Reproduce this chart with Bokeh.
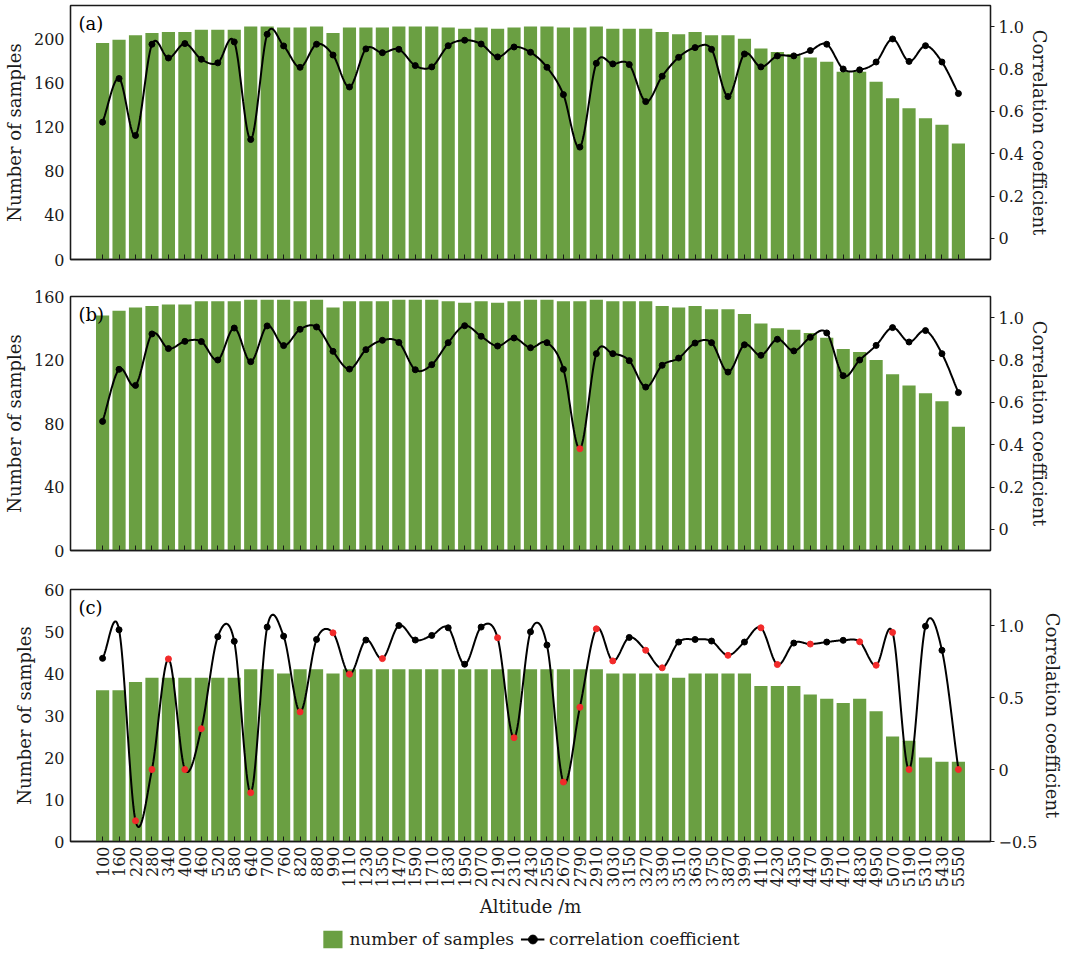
import numpy as np
from math import pi
from bokeh.plotting import figure
from bokeh.models import (Range1d, LinearAxis, FixedTicker, CustomJSTickFormatter,
                          Legend, LegendItem, Label)
from bokeh.layouts import column
from bokeh.embed import file_html
from bokeh.resources import INLINE

altitudes = ["100", "160", "220", "280", "340", "400", "460", "520", "580", "640",
             "700", "760", "820", "880", "990", "1110", "1230", "1350", "1470", "1590",
             "1710", "1830", "1950", "2070", "2190", "2310", "2430", "2550", "2670", "2790",
             "2910", "3030", "3150", "3270", "3390", "3510", "3630", "3750", "3870", "3990",
             "4110", "4230", "4350", "4470", "4590", "4710", "4830", "4950", "5070", "5190",
             "5310", "5430", "5550"]

samples_a = [196, 199, 203, 205, 206, 206, 208, 208, 208, 211, 211, 210, 210, 211, 205, 210,
             210, 210, 211, 211, 211, 210, 209, 210, 209, 210, 211, 211, 210, 210, 211, 209,
             209, 209, 206, 204, 206, 203, 203, 200, 191, 188, 186, 183, 179, 170, 170, 161,
             146, 137, 128, 122, 105]
corr_a = [0.549, 0.755, 0.486, 0.917, 0.852, 0.920, 0.846, 0.829, 0.928, 0.467, 0.964, 0.909,
          0.808, 0.917, 0.866, 0.715, 0.895, 0.877, 0.893, 0.816, 0.810, 0.910, 0.936, 0.918,
          0.857, 0.904, 0.879, 0.808, 0.679, 0.431, 0.827, 0.824, 0.821, 0.646, 0.766, 0.855,
          0.901, 0.893, 0.670, 0.871, 0.810, 0.862, 0.862, 0.887, 0.917, 0.800, 0.796, 0.833,
          0.942, 0.836, 0.910, 0.833, 0.684]
flag_a = [0] * 53

samples_b = [148, 151, 153, 154, 155, 155, 157, 157, 157, 158, 158, 158, 157, 158, 153, 157,
             157, 157, 158, 158, 158, 157, 156, 157, 156, 157, 158, 158, 157, 157, 158, 157,
             157, 157, 154, 153, 154, 152, 152, 149, 143, 140, 139, 137, 134, 127, 125, 120,
             111, 104, 99, 94, 78]
corr_b = [0.510, 0.756, 0.680, 0.923, 0.854, 0.888, 0.887, 0.800, 0.951, 0.792, 0.961, 0.868,
          0.945, 0.956, 0.841, 0.757, 0.849, 0.893, 0.883, 0.754, 0.778, 0.882, 0.962, 0.912,
          0.866, 0.904, 0.858, 0.882, 0.756, 0.381, 0.830, 0.830, 0.797, 0.672, 0.775, 0.809,
          0.880, 0.882, 0.743, 0.872, 0.822, 0.898, 0.843, 0.907, 0.928, 0.726, 0.800, 0.869,
          0.953, 0.885, 0.939, 0.830, 0.646]
flag_b = [0] * 29 + [1] + [0] * 23

samples_c = [36, 36, 38, 39, 39, 39, 39, 39, 39, 41, 41, 40, 41, 41, 40, 41, 41, 41, 41, 41,
             41, 41, 41, 41, 41, 41, 41, 41, 41, 41, 41, 40, 40, 40, 40, 39, 40, 40, 40, 40,
             37, 37, 37, 35, 34, 33, 34, 31, 25, 24, 20, 19, 19]
corr_c = [0.772, 0.970, -0.356, 0.000, 0.768, 0.000, 0.283, 0.922, 0.890, -0.161, 0.989, 0.926,
          0.400, 0.903, 0.949, 0.662, 0.899, 0.770, 1.000, 0.899, 0.931, 0.984, 0.731, 0.989,
          0.915, 0.221, 0.956, 0.864, -0.087, 0.432, 0.977, 0.754, 0.917, 0.828, 0.706, 0.885,
          0.903, 0.892, 0.793, 0.885, 0.984, 0.729, 0.878, 0.871, 0.885, 0.897, 0.887, 0.724,
          0.952, 0.000, 0.995, 0.828, 0.000]
flag_c = [0, 0, 1, 1, 1, 1, 1, 0, 0, 1, 0, 0, 1, 0, 1, 1, 0, 1, 0, 0, 0, 0, 0, 0, 1, 1,
          0, 0, 1, 1, 1, 1, 0, 1, 1, 0, 0, 0, 1, 0, 1, 1, 0, 1, 0, 0, 1, 1, 1, 1, 0, 0, 1]

legend_labels = ["number of samples", "correlation coefficient"]

FONT = "DejaVu Serif"
GREEN = "#6a9f42"
RED = "#f22a2a"
INK = "#1a1a1a"
X_RANGE = (-1.95, 53.95)


def spline_curve(y, per=24):
    """Catmull-Rom (cardinal) spline through the points, used only to draw the
    smooth connecting line between the read values."""
    y = np.asarray(y, dtype=float)
    n = len(y)
    m = np.zeros(n)
    m[1:-1] = (y[2:] - y[:-2]) / 2.0
    m[0] = y[1] - y[0]
    m[-1] = y[-1] - y[-2]
    xs, ys = [], []
    for i in range(n - 1):
        t = np.linspace(0, 1, per, endpoint=(i == n - 2))
        h00 = 2 * t ** 3 - 3 * t ** 2 + 1
        h10 = t ** 3 - 2 * t ** 2 + t
        h01 = -2 * t ** 3 + 3 * t ** 2
        h11 = t ** 3 - t ** 2
        v = h00 * y[i] + h10 * m[i] + h01 * y[i + 1] + h11 * m[i + 1]
        xs.extend(list(i + t))
        ys.extend(list(v))
    return xs, ys


def rfmt():
    return CustomJSTickFormatter(code="""
        if (Math.abs(tick) < 1e-9) return '0';
        const s = Math.abs(tick).toFixed(1);
        return tick < 0 ? '\\u2212' + s : s;
    """)


def style_axis(ax):
    ax.axis_label_text_font = FONT
    ax.axis_label_text_font_size = "18px"
    ax.axis_label_text_font_style = "normal"
    ax.axis_label_text_color = INK
    ax.major_label_text_font = FONT
    ax.major_label_text_font_size = "16px"
    ax.major_label_text_color = INK
    ax.axis_line_color = INK
    ax.axis_line_width = 1.3
    ax.major_tick_line_color = INK
    ax.minor_tick_out = 0
    ax.minor_tick_in = 0


def panel(tag, samples, corr, flags, ylim, yticks, rlim, rticks, height, top, bottom, right,
          show_x=False):
    idx = list(range(len(altitudes)))
    p = figure(width=1066, height=height, x_range=Range1d(*X_RANGE),
               y_range=Range1d(*ylim), output_backend="svg", toolbar_location=None,
               min_border_left=70, min_border_right=right, min_border_top=top,
               min_border_bottom=bottom)
    p.grid.visible = False
    p.outline_line_color = INK
    p.outline_line_width = 1.3
    p.background_fill_color = "white"
    p.border_fill_color = "white"

    p.vbar(x=idx, top=samples, width=0.8, color=GREEN, line_color=None)

    p.extra_y_ranges = {"r": Range1d(*rlim)}
    xs, ys = spline_curve(corr)
    p.line(xs, ys, y_range_name="r", line_color="black", line_width=2)
    bx = [i for i in idx if not flags[i]]
    by = [corr[i] for i in idx if not flags[i]]
    rx = [i for i in idx if flags[i]]
    ry = [corr[i] for i in idx if flags[i]]
    p.scatter(bx, by, y_range_name="r", size=6, color="black")
    if rx:
        p.scatter(rx, ry, y_range_name="r", size=6, color=RED)

    ya = p.yaxis[0]
    style_axis(ya)
    ya.ticker = FixedTicker(ticks=yticks)
    ya.axis_label = "Number of samples"
    ya.major_tick_out = 0
    ya.major_tick_in = 0
    ya.major_label_standoff = 6
    ya.axis_label_standoff = 6

    ra = LinearAxis(y_range_name="r", ticker=FixedTicker(ticks=rticks), formatter=rfmt())
    style_axis(ra)
    ra.axis_label = "Correlation coefficient"
    ra.major_tick_out = 4
    ra.major_tick_in = 0
    ra.major_label_standoff = 4
    ra.axis_label_standoff = 2
    p.add_layout(ra, "right")

    xa = p.xaxis[0]
    style_axis(xa)
    xa.ticker = FixedTicker(ticks=idx)
    xa.major_tick_in = 5
    xa.major_tick_out = 0
    if show_x:
        xa.major_label_overrides = {i: altitudes[i] for i in idx}
        xa.major_label_orientation = pi / 2
        xa.major_label_standoff = 5
        xa.axis_label = "Altitude /m"
        xa.axis_label_standoff = 6
    else:
        xa.formatter = CustomJSTickFormatter(code="return ''")

    p.add_layout(Label(x=X_RANGE[0], y=ylim[1], x_offset=8, y_offset=-7, text=tag,
                       text_baseline="top", text_font=FONT, text_font_size="18px",
                       text_color="black"))
    return p


pa = panel("(a)", samples_a, corr_a, flag_a, (0, 230), [0, 40, 80, 120, 160, 200],
           (-0.1, 1.1), [0, 0.2, 0.4, 0.6, 0.8, 1.0], 281, 5, 22, 64)
pb = panel("(b)", samples_b, corr_b, flag_b, (0, 160), [0, 40, 80, 120, 160],
           (-0.1, 1.1), [0, 0.2, 0.4, 0.6, 0.8, 1.0], 289, 15, 20, 64)
pc = panel("(c)", samples_c, corr_c, flag_c, (0, 60), [0, 10, 20, 30, 40, 50, 60],
           (-0.5, 1.25), [-0.5, 0, 0.5, 1.0], 352, 19, 81, 70, show_x=True)

# legend strip: the series are attached here with view ranges that keep them
# out of sight, so only their legend swatches show
idx_all = list(range(len(altitudes)))
pl = figure(width=1066, height=34, x_range=Range1d(-300, -299), y_range=Range1d(5000, 5001),
            output_backend="svg", toolbar_location=None, min_border=0)
pl.axis.visible = False
pl.grid.visible = False
pl.outline_line_color = None
lb = pl.vbar(x=idx_all, top=samples_c, width=0.8, color=GREEN, line_color=None)
ll = pl.line(x=idx_all, y=corr_c, line_color="black", line_width=2)
ls = pl.scatter(x=idx_all, y=corr_c, size=6, color="black")
legend = Legend(items=[LegendItem(label=legend_labels[0], renderers=[lb]),
                       LegendItem(label=legend_labels[1], renderers=[ll, ls])],
                orientation="horizontal", location="center",
                label_text_font=FONT, label_text_font_size="17px", label_text_color=INK,
                glyph_width=24, glyph_height=22, spacing=6, padding=2, margin=0,
                label_standoff=5, border_line_alpha=0, background_fill_alpha=0)
pl.add_layout(legend, "center")

layout = column(pa, pb, pc, pl, spacing=0)
open("out.html", "w").write(file_html(layout, INLINE))
